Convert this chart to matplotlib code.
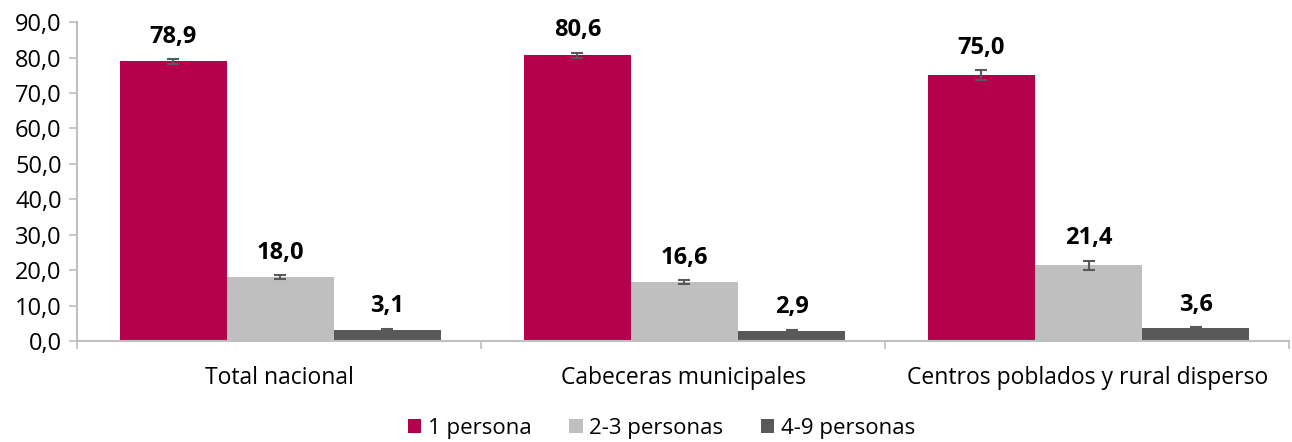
import numpy as np
import matplotlib.pyplot as plt
from matplotlib.ticker import FuncFormatter

plt.rcParams['font.family'] = ['Open Sans', 'DejaVu Sans']

categories = ['Total nacional', 'Cabeceras municipales', 'Centros poblados y rural disperso']
series_names = ['1 persona', '2-3 personas', '4-9 personas']
vals_1 = [78.9, 80.6, 75.0]
vals_23 = [18.0, 16.6, 21.4]
vals_49 = [3.1, 2.9, 3.6]
err_1 = [0.6, 0.7, 1.4]
err_23 = [0.5, 0.5, 1.3]
err_49 = [0.3, 0.3, 0.3]

colors = ['#b5004b', '#bfbfbf', '#595959']
axis_col = '#bfbfbf'

fig = plt.figure(figsize=(12.92, 4.42), dpi=100)
ax = fig.add_axes([0.0596, 0.2285, 0.9384, 0.7215])

x = np.arange(len(categories))
w = 0.265
for i, (vals, errs) in enumerate(zip([vals_1, vals_23, vals_49], [err_1, err_23, err_49])):
    pos = x + (i - 1) * w + 0.003
    ax.bar(pos, vals, width=w, color=colors[i], label=series_names[i],
           yerr=errs, error_kw=dict(ecolor='#595959', elinewidth=1.5, capsize=4, capthick=1.5))
    for p, v, e in zip(pos, vals, errs):
        ax.text(p, v + e + 3.0, f'{v:.1f}'.replace('.', ','), ha='center', va='bottom',
                fontsize=17, fontweight='bold', color='black')

ax.set_xlim(-0.5, 2.5)
ax.set_ylim(0, 90)
ax.set_yticks(np.arange(0, 91, 10))
ax.yaxis.set_major_formatter(FuncFormatter(lambda v, _: f'{v:.1f}'.replace('.', ',')))
ax.set_xticks(x)
ax.set_xticklabels(categories, fontsize=16.5)
ax.set_xticks([-0.5, 0.5, 1.5, 2.5], minor=True)
ax.tick_params(axis='x', which='major', length=0, pad=18)
ax.tick_params(axis='x', which='minor', length=6, color=axis_col, width=1.2)
ax.tick_params(axis='y', length=6, color=axis_col, width=1.2, labelsize=17, pad=5)
for s in ['top', 'right']:
    ax.spines[s].set_visible(False)
for s in ['left', 'bottom']:
    ax.spines[s].set_color(axis_col)
    ax.spines[s].set_linewidth(1.5)

leg = fig.legend(loc='center', bbox_to_anchor=(0.512, 0.03), ncol=3, frameon=False,
                 fontsize=16, handlelength=0.6, handleheight=0.6, handletextpad=0.3,
                 columnspacing=1.7, borderpad=0)

fig.savefig('out.png', dpi=100)
